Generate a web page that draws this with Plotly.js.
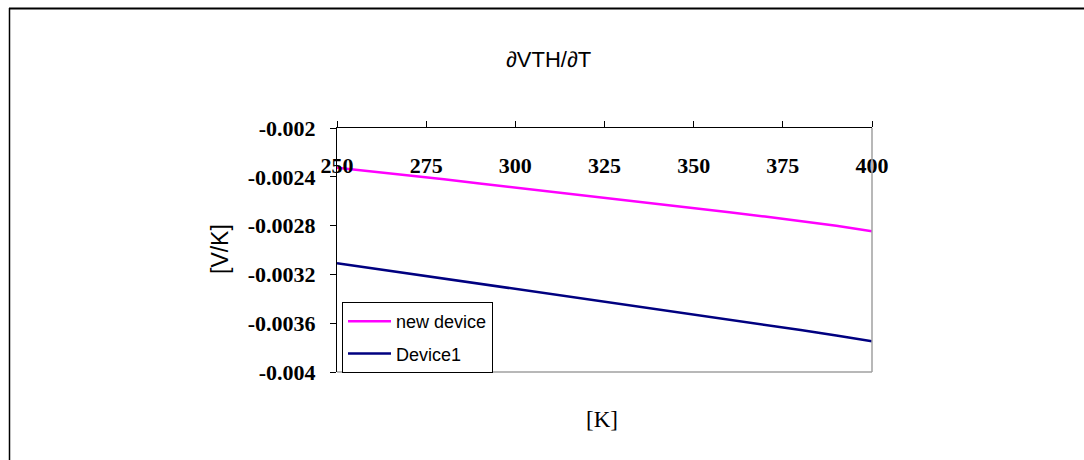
<!DOCTYPE html>
<html>
<head>
<meta charset="utf-8">
<script src="https://cdn.plot.ly/plotly-3.0.1.min.js"></script>
<style>
  html, body { margin: 0; padding: 0; background: #fff; }
  #chart { width: 1084px; height: 460px; }
</style>
</head>
<body>
<div id="chart"></div>
<script>
// Temperature sweep [K]
const temperature = [250, 260, 270, 280, 290, 300, 310, 320, 330, 340, 350, 360, 370, 380, 390, 400];

// dVTH/dT [V/K] for each device
const newDevice = [-0.002326, -0.002356, -0.002388, -0.002421, -0.002454, -0.002487, -0.002520, -0.002553,
                   -0.002587, -0.002621, -0.002655, -0.002690, -0.002726, -0.002763, -0.002802, -0.002846];
const device1 = [-0.003108, -0.003150, -0.003191, -0.003233, -0.003274, -0.003316, -0.003357, -0.003399,
                 -0.003441, -0.003483, -0.003526, -0.003569, -0.003612, -0.003656, -0.003701, -0.003748];

// Axis ticks
const xTickVals = [250, 275, 300, 325, 350, 375, 400];
const xTickText = ['250', '275', '300', '325', '350', '375', '400'];
const yTickVals = [-0.002, -0.0024, -0.0028, -0.0032, -0.0036, -0.004];
const yTickText = ['-0.002', '-0.0024', '-0.0028', '-0.0032', '-0.0036', '-0.004'];

// Page geometry
const W = 1084, H = 460;
const M = { l: 337, r: 212, t: 128, b: 88 };
const PW = W - M.l - M.r, PH = H - M.t - M.b;
const px = x => (x - M.l) / PW;          // page x -> paper x
const py = y => (H - M.b - y) / PH;      // page y -> paper y

const serif = 'Liberation Serif, Times New Roman, serif';
const sans = 'Liberation Sans, Arial, sans-serif';

const traces = [
  { x: temperature, y: newDevice, name: 'new device', mode: 'lines', legendgroup: 'a',
    line: { color: '#ff00ff', width: 2.5 } },
  { x: temperature, y: device1, name: 'Device1', mode: 'lines', legendgroup: 'b',
    line: { color: '#000080', width: 2.5 } }
];

const layout = {
  width: W, height: H,
  margin: M,
  paper_bgcolor: '#fff', plot_bgcolor: '#fff',
  showlegend: true,
  legend: {
    x: px(342), y: py(302), xanchor: 'left', yanchor: 'top',
    bgcolor: '#fff', bordercolor: '#000', borderwidth: 1,
    font: { family: sans, size: 18, color: '#000' },
    traceorder: 'grouped', tracegroupgap: 6, itemwidth: 43
  },
  xaxis: {
    range: [250, 400], side: 'top',
    showline: true, linecolor: '#000', linewidth: 1,
    showgrid: false, zeroline: false,
    ticks: 'outside', ticklen: 6, tickcolor: '#000', tickwidth: 1,
    tickvals: xTickVals, ticktext: xTickText,
    ticklabelposition: 'inside', ticklabeloverflow: 'allow', ticklabelstandoff: 31,
    tickfont: { family: serif, size: 22, color: '#000', weight: 'bold' }
  },
  yaxis: {
    range: [-0.004, -0.002],
    showline: true, linecolor: '#000', linewidth: 1,
    showgrid: false, zeroline: false,
    ticks: 'outside', ticklen: 6, tickcolor: '#000', tickwidth: 1,
    tickvals: yTickVals, ticktext: yTickText, ticklabelstandoff: 10,
    tickfont: { family: serif, size: 22, color: '#000', weight: 'bold' }
  },
  annotations: [
    { text: '\u2202VTH/\u2202T', xref: 'paper', yref: 'paper', x: px(548), y: py(60),
      xanchor: 'center', yanchor: 'middle', showarrow: false,
      font: { family: sans, size: 22, color: '#000' } },
    { text: '[V/K]', xref: 'paper', yref: 'paper', x: px(220), y: py(249), textangle: -90,
      xanchor: 'center', yanchor: 'middle', showarrow: false,
      font: { family: sans, size: 23, color: '#000' } },
    { text: '[K]', xref: 'paper', yref: 'paper', x: px(602), y: py(419),
      xanchor: 'center', yanchor: 'middle', showarrow: false,
      font: { family: serif, size: 23, color: '#000' } }
  ],
  shapes: [
    // plot-area border (right and bottom)
    { type: 'line', xref: 'paper', yref: 'paper', x0: 1, x1: 1, y0: 0, y1: 1,
      line: { color: '#a0a0a0', width: 1.5 } },
    { type: 'line', xref: 'paper', yref: 'paper', x0: 0, x1: 1, y0: 0, y1: 0,
      line: { color: '#a0a0a0', width: 1.5 } },
    // outer frame (left and top)
    { type: 'line', xref: 'paper', yref: 'paper', x0: px(9.5), x1: px(9.5), y0: py(8), y1: py(H + 2),
      line: { color: '#000', width: 1.5 } },
    { type: 'line', xref: 'paper', yref: 'paper', x0: px(9), x1: px(W + 2), y0: py(8.5), y1: py(8.5),
      line: { color: '#000', width: 2 } }
  ]
};

Plotly.newPlot('chart', traces, layout, { staticPlot: true, displayModeBar: false });
</script>
</body>
</html>
